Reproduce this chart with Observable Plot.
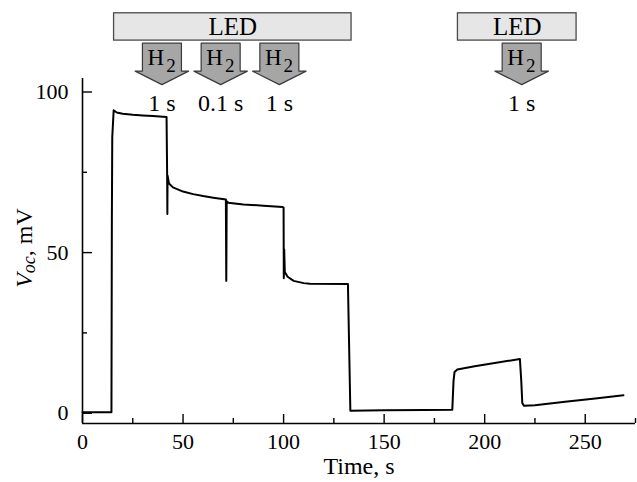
<!DOCTYPE html>
<html>
<head>
<meta charset="utf-8">
<script src="https://cdn.jsdelivr.net/npm/d3@7"></script>
<script src="https://cdn.jsdelivr.net/npm/@observablehq/plot@0.6"></script>
<style>
  html, body { margin: 0; padding: 0; background: white; }
</style>
</head>
<body>
<div id="chart"></div>
<script>
// ---- data ----
const timeS = [0, 14.4, 14.6, 14.8, 15.5, 17, 20, 25, 30, 35, 41.8, 42.0, 42.1, 42.2, 42.3, 43, 45, 50, 55, 60, 65, 70.5, 71.3, 71.5, 71.7, 72.5, 80, 90, 99.5, 100, 100.1, 100.3, 100.6, 102, 105, 110, 113, 132, 133.2, 150, 170, 183.9, 184.5, 185, 186.4, 195, 205, 217.5, 218.2, 218.7, 219.5, 225, 240, 255, 269];
const vocMV = [0.3, 0.3, 60, 86, 94.3, 93.6, 93.2, 92.9, 92.7, 92.5, 92.2, 80, 73.5, 62, 74, 71.5, 70.3, 69.0, 68.2, 67.6, 67.1, 66.6, 66.5, 41.2, 66, 65.5, 65.0, 64.6, 64.2, 64, 42, 51, 44, 42.5, 41.2, 40.5, 40.3, 40.2, 0.8, 0.9, 1.0, 1.1, 10, 12.8, 13.6, 14.6, 15.6, 16.9, 10, 3.2, 2.3, 2.5, 3.6, 4.6, 5.6];

const ledStart = [15.7, 186.7];
const ledEnd = [133.8, 245.7];
const ledLabel = ["LED", "LED"];

const h2Time = [39.5, 68.7, 97.9, 218.4];
const h2Duration = ["1 s", "0.1 s", "1 s", "1 s"];

const xTickLabels = [0, 50, 100, 150, 200, 250];
const xMinorTicks = [25, 75, 125, 175, 225, 275];
const yTickLabels = [0, 50, 100];
const yMinorTicks = [25, 75];

// ---- layout ----
const W = 637, H = 482;
const mL = 82, mR = 2, mT = 78, mB = 59;
const frameW = W - mL - mR, frameH = H - mT - mB;
const xDomain = [0, 275];
const yDomain = [-3.2, 104.2];

const series = timeS.map((t, i) => ({t, v: vocMV[i]}));
const leds = ledStart.map((s, i) => ({s, e: ledEnd[i], label: ledLabel[i]}));

// arrow template (offsets in seconds, levels in mV) around each H2 time
const arrowTemplate = [[-9.7, 115.2], [9.7, 115.2], [9.7, 106.5], [13.3, 106.5], [0, 102.3], [-13.3, 106.5], [-9.7, 106.5]];
const arrows = h2Time.flatMap((c, k) => arrowTemplate.map(([dx, y]) => ({id: k, x: c + dx, y})));
const h2 = h2Time.map((c, k) => ({c, dur: h2Duration[k]}));

const font = "Liberation Serif";

const chart = Plot.plot({
  width: W, height: H,
  marginLeft: mL, marginRight: mR, marginTop: mT, marginBottom: mB,
  style: "font-family: 'Liberation Serif', serif; font-size: 22px; color: black; background: white; overflow: visible;",
  x: {domain: xDomain},
  y: {domain: yDomain},
  marks: [
    // axis lines
    Plot.ruleX([0], {stroke: "black", strokeWidth: 1.6}),
    Plot.ruleY([yDomain[0]], {stroke: "black", strokeWidth: 1.6}),
    // inward ticks
    Plot.tickX(xTickLabels, {x: d => d, stroke: "black", strokeWidth: 1.4, insetTop: frameH - 9}),
    Plot.tickX(xMinorTicks, {x: d => d, stroke: "black", strokeWidth: 1.4, insetTop: frameH - 5}),
    Plot.tickY(yTickLabels, {y: d => d, stroke: "black", strokeWidth: 1.4, insetRight: frameW - 10}),
    Plot.tickY(yMinorTicks, {y: d => d, stroke: "black", strokeWidth: 1.4, insetRight: frameW - 5}),
    Plot.axisX({ticks: xTickLabels, tickSize: 0, tickPadding: 10, fontSize: 22, fontFamily: font, label: null, tickFormat: d => String(d)}),
    Plot.axisY({ticks: yTickLabels, tickSize: 0, tickPadding: 14, fontSize: 22, fontFamily: font, label: null, tickFormat: d => String(d)}),
    Plot.text(["Time, s"], {frameAnchor: "bottom", dy: 50, fontSize: 24, fontFamily: font, fill: "black"}),
    // data line
    Plot.line(series, {x: "t", y: "v", stroke: "black", strokeWidth: 2, strokeLinejoin: "round"}),
    // LED bars
    Plot.rect(leds, {x1: "s", x2: "e", y1: 116.0, y2: 124.5, fill: "#e6e6e6", stroke: "#4a4a4a", strokeWidth: 1.3}),
    Plot.text(leds, {x: d => (d.s + d.e) / 2, y: 120.3, text: "label", fontSize: 25, fontFamily: font, fill: "black"}),
    // H2 arrows
    Plot.line(arrows, {x: "x", y: "y", z: "id", curve: "linear-closed", fill: "#a6a6a6", stroke: "#3a3a3a", strokeWidth: 1.2}),
    Plot.text(h2, {x: "c", y: 110.8, text: () => "H", dx: -6, fontSize: 23, fontFamily: font, fill: "black"}),
    Plot.text(h2, {x: "c", y: 108.0, text: () => "2", dx: 9, fontSize: 19, fontFamily: font, fill: "black"}),
    Plot.text(h2, {x: "c", y: 96.4, text: "dur", fontSize: 24, fontFamily: font, fill: "black"})
  ]
});

const svg = d3.select(chart);
const lab = svg.append("text")
  .attr("transform", "translate(26,248) rotate(-90)")
  .attr("text-anchor", "middle")
  .attr("dominant-baseline", "middle")
  .attr("font-family", font)
  .attr("font-size", 24)
  .attr("fill", "black");
lab.append("tspan").attr("font-style", "italic").text("V");
lab.append("tspan").attr("font-style", "italic").attr("font-size", 18).attr("dy", 5).text("oc");
lab.append("tspan").attr("dy", -5).text(", mV");

document.getElementById("chart").appendChild(chart);
</script>
</body>
</html>
